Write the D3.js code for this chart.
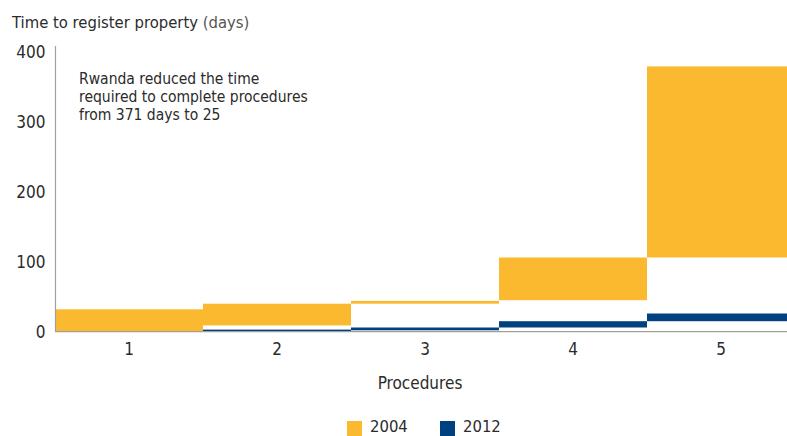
<!DOCTYPE html>
<html>
<head>
<meta charset="utf-8">
<script src="https://cdn.jsdelivr.net/npm/d3@7"></script>
<style>
  body { margin: 0; background: #fff; }
  svg text { font-family: "Liberation Sans Narrow", "DejaVu Sans Condensed", "Open Sans", sans-serif; fill: #2b2b2b; }
</style>
</head>
<body>
<div id="chart"></div>
<script>
// data (days)
const procedures = ['1', '2', '3', '4', '5'];
const start2004 = [0, 8, 39, 44, 105];
const end2004 = [31, 39, 43, 105, 378];
const start2012 = [0, 0, 1, 5, 14];
const end2012 = [0, 2, 5, 14, 25];
const yTicks = [0, 100, 200, 300, 400];
const seriesNames = ['2004', '2012'];
const colors = ['#fbb92f', '#00427f'];

const width = 787;
const height = 436;

const svg = d3.select('#chart').append('svg')
  .attr('width', width)
  .attr('height', height);

const x = d3.scaleBand()
  .domain(procedures)
  .range([55, 795])
  .padding(0);
const y = d3.scaleLinear()
  .domain([0, 400])
  .range([331, 51]);

// bars: each procedure is a floating bar from start to end day
const plots = svg.append('g').attr('class', 'plots');
const series = [
  { name: seriesNames[0], start: start2004, end: end2004, color: colors[0] },
  { name: seriesNames[1], start: start2012, end: end2012, color: colors[1] },
];
series.forEach((s) => {
  plots.selectAll(null)
    .data(procedures)
    .enter()
    .append('rect')
    .attr('x', (d) => x(d))
    .attr('width', x.bandwidth())
    .attr('y', (d, i) => y(s.end[i]))
    .attr('height', (d, i) => y(s.start[i]) - y(s.end[i]))
    .attr('fill', s.color);
});

// axes
const yAxis = svg.append('g')
  .attr('transform', 'translate(55.5,0)')
  .call(d3.axisLeft(y).tickValues(yTicks).tickSize(0).tickPadding(10));
yAxis.select('.domain').remove();
yAxis.append('line')
  .attr('y1', y(0)).attr('y2', y(407))
  .attr('stroke', '#a0a0a0').attr('stroke-width', 1.2);
yAxis.selectAll('text')
  .attr('font-size', 17)
  .attr('dy', '0.36em');

const xAxis = svg.append('g')
  .attr('transform', `translate(0,${y(0) + 0.6})`)
  .call(d3.axisBottom(x).tickSize(0).tickPadding(11));
xAxis.select('.domain').remove();
xAxis.append('line')
  .attr('x1', 55).attr('x2', width)
  .attr('stroke', '#a0a0a0').attr('stroke-width', 1.4);
xAxis.selectAll('text')
  .attr('font-size', 17)
  .attr('dy', '0.71em');

// title
const title = svg.append('text')
  .attr('x', 12)
  .attr('y', 28)
  .attr('font-size', 16.5);
title.append('tspan').text('Time to register property ');
title.append('tspan').style('fill', '#555').text('(days)');

// annotation
const note = ['Rwanda reduced the time', 'required to complete procedures', 'from 371 days to 25'];
svg.append('g').selectAll('text')
  .data(note)
  .enter()
  .append('text')
  .attr('x', 79)
  .attr('y', (d, i) => 84 + i * 18)
  .attr('font-size', 15.5)
  .text((d) => d);

// x axis title
svg.append('text')
  .attr('x', 420)
  .attr('y', 389)
  .attr('text-anchor', 'middle')
  .attr('font-size', 17)
  .text('Procedures');

// legend
const legend = svg.append('g').attr('class', 'legend');
const legendX = [347, 440];
seriesNames.forEach((name, i) => {
  legend.append('rect')
    .attr('x', legendX[i])
    .attr('y', 421)
    .attr('width', 15)
    .attr('height', 15)
    .attr('fill', colors[i]);
  legend.append('text')
    .attr('x', legendX[i] + 23)
    .attr('y', 432)
    .attr('font-size', 16.5)
    .text(name);
});
</script>
</body>
</html>
